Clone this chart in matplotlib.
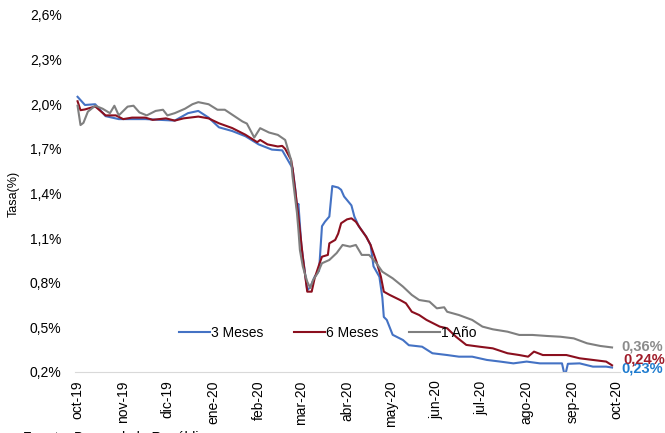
import matplotlib.pyplot as plt
import pandas as pd

plt.rcParams['font.family'] = ['Liberation Sans', 'DejaVu Sans']

# 3 Meses
blue_dates = ['2019-10-01', '2019-10-06', '2019-10-13', '2019-10-20', '2019-10-29', '2019-11-16',
              '2019-12-06', '2019-12-15', '2019-12-22', '2019-12-29', '2020-01-05', '2020-01-14',
              '2020-01-23', '2020-02-01', '2020-02-10', '2020-02-17', '2020-02-24', '2020-02-26',
              '2020-02-27', '2020-02-28', '2020-03-01', '2020-03-02', '2020-03-05', '2020-03-07',
              '2020-03-10', '2020-03-13', '2020-03-15', '2020-03-17', '2020-03-20', '2020-03-22',
              '2020-03-26', '2020-03-28', '2020-03-30', '2020-04-04', '2020-04-06', '2020-04-09',
              '2020-04-14', '2020-04-17', '2020-04-19', '2020-04-23', '2020-04-25', '2020-04-26',
              '2020-04-28', '2020-05-02', '2020-05-09', '2020-05-13', '2020-05-22', '2020-05-29',
              '2020-06-08', '2020-06-16', '2020-06-25', '2020-07-05', '2020-07-14', '2020-07-23',
              '2020-08-01', '2020-08-10', '2020-08-25', '2020-08-27', '2020-08-29', '2020-09-06',
              '2020-09-15', '2020-09-24', '2020-09-28']
blue_vals = [2.05, 1.995, 2.00, 1.92, 1.90, 1.90,
             1.89, 1.94, 1.955, 1.91, 1.845, 1.82,
             1.785, 1.73, 1.695, 1.69, 1.57, 1.42,
             1.30, 1.33, 1.05, 0.975, 0.75, 0.77,
             0.84, 0.88, 1.18, 1.21, 1.245, 1.45,
             1.44, 1.425, 1.38, 1.32, 1.245, 1.18,
             1.11, 1.054, 0.91, 0.84, 0.70, 0.57,
             0.55, 0.45, 0.415, 0.38, 0.37, 0.326,
             0.314, 0.303, 0.303, 0.281, 0.27, 0.258,
             0.27, 0.258, 0.258, 0.17, 0.255, 0.258,
             0.236, 0.236, 0.23]

# 6 Meses
red_dates = ['2019-10-01', '2019-10-03', '2019-10-06', '2019-10-13', '2019-10-20', '2019-10-27',
             '2019-11-01', '2019-11-07', '2019-11-16', '2019-11-21', '2019-11-30', '2019-12-06',
             '2019-12-12', '2019-12-22', '2019-12-29', '2020-01-05', '2020-01-14', '2020-01-23',
             '2020-01-31', '2020-02-02', '2020-02-07', '2020-02-14', '2020-02-17', '2020-02-19',
             '2020-02-23', '2020-02-24', '2020-02-28', '2020-03-02', '2020-03-05', '2020-03-08',
             '2020-03-10', '2020-03-13', '2020-03-15', '2020-03-19', '2020-03-20', '2020-03-24',
             '2020-03-26', '2020-03-28', '2020-04-01', '2020-04-04', '2020-04-07', '2020-04-10',
             '2020-04-14', '2020-04-17', '2020-04-21', '2020-04-24', '2020-04-26', '2020-04-30',
             '2020-05-07', '2020-05-11', '2020-05-15', '2020-05-20', '2020-05-25', '2020-06-03',
             '2020-06-08', '2020-06-14', '2020-06-21', '2020-06-30', '2020-07-09', '2020-07-19',
             '2020-07-27', '2020-08-02', '2020-08-06', '2020-08-12', '2020-08-18', '2020-08-28',
             '2020-09-06', '2020-09-15', '2020-09-24', '2020-09-28']
red_vals = [2.02, 1.96, 1.965, 1.985, 1.925, 1.925,
            1.90, 1.91, 1.91, 1.895, 1.905, 1.89,
            1.905, 1.917, 1.905, 1.872, 1.84, 1.795,
            1.745, 1.76, 1.73, 1.716, 1.72, 1.70,
            1.626, 1.57, 1.245, 0.97, 0.74, 0.74,
            0.83, 0.92, 0.975, 0.987, 1.065, 1.088,
            1.13, 1.20, 1.226, 1.233, 1.21, 1.166,
            1.11, 1.054, 0.942, 0.841, 0.74, 0.718,
            0.684, 0.662, 0.605, 0.583, 0.55, 0.505,
            0.494, 0.437, 0.382, 0.37, 0.359, 0.326,
            0.314, 0.303, 0.337, 0.314, 0.314, 0.314,
            0.292, 0.281, 0.27, 0.245]

# 1 Año
gray_dates = ['2019-10-01', '2019-10-03', '2019-10-05', '2019-10-08', '2019-10-13', '2019-10-18',
              '2019-10-23', '2019-10-26', '2019-10-29', '2019-11-04', '2019-11-08', '2019-11-12',
              '2019-11-17', '2019-11-23', '2019-11-28', '2019-12-01', '2019-12-06', '2019-12-13',
              '2019-12-18', '2019-12-22', '2019-12-29', '2020-01-04', '2020-01-09', '2020-01-14',
              '2020-01-21', '2020-01-24', '2020-01-29', '2020-02-02', '2020-02-08', '2020-02-14',
              '2020-02-19', '2020-02-23', '2020-02-24', '2020-02-27', '2020-02-28', '2020-02-29',
              '2020-03-02', '2020-03-05', '2020-03-07', '2020-03-09', '2020-03-12', '2020-03-15',
              '2020-03-20', '2020-03-25', '2020-03-29', '2020-04-03', '2020-04-07', '2020-04-11',
              '2020-04-16', '2020-04-21', '2020-04-25', '2020-05-02', '2020-05-09', '2020-05-15',
              '2020-05-20', '2020-05-27', '2020-06-01', '2020-06-06', '2020-06-08', '2020-06-16',
              '2020-06-25', '2020-07-02', '2020-07-09', '2020-07-19', '2020-07-27', '2020-08-05',
              '2020-08-15', '2020-08-24', '2020-09-02', '2020-09-11', '2020-09-20', '2020-09-28']
gray_vals = [1.99, 1.86, 1.875, 1.95, 1.99, 1.97,
             1.94, 1.99, 1.925, 1.984, 1.99, 1.945,
             1.925, 1.955, 1.963, 1.925, 1.94, 1.97,
             2.00, 2.014, 2.00, 1.963, 1.963, 1.93,
             1.884, 1.87, 1.776, 1.839, 1.81, 1.794,
             1.76, 1.626, 1.514, 1.27, 1.155, 1.02,
             0.908, 0.807, 0.765, 0.819, 0.864, 0.931,
             0.953, 1.00, 1.054, 1.043, 1.054, 0.987,
             0.987, 0.931, 0.874, 0.83, 0.774, 0.718,
             0.684, 0.673, 0.628, 0.635, 0.605, 0.583,
             0.55, 0.505, 0.487, 0.471, 0.449, 0.449,
             0.442, 0.437, 0.426, 0.393, 0.375, 0.365]

month_ticks = ['2019-10-01', '2019-11-01', '2019-12-01', '2020-01-01', '2020-02-01', '2020-03-01',
               '2020-04-01', '2020-05-01', '2020-06-01', '2020-07-01', '2020-08-01', '2020-09-01',
               '2020-10-01']
month_labels = ['oct-19', 'nov-19', 'dic-19', 'ene-20', 'feb-20', 'mar-20', 'abr-20',
                'may-20', 'jun-20', 'jul-20', 'ago-20', 'sep-20', 'oct-20']
y_ticks = [0.2, 0.5, 0.8, 1.1, 1.4, 1.7, 2.0, 2.3, 2.6]

fig = plt.figure(figsize=(6.65, 4.33), dpi=100)
ax = fig.add_axes([0.1135, 0.1409, 0.8195, 0.8245])

series = [
    ('3 Meses', blue_dates, blue_vals, '#4472c4', '#1f7ccf', '0,23%', (9, -1)),
    ('6 Meses', red_dates, red_vals, '#8b0f1e', '#a01c2a', '0,24%', (11, 6)),
    ('1 Año', gray_dates, gray_vals, '#7f7f7f', '#8c8c8c', '0,36%', (9, 1)),
]
for name, d, v, col, lab_col, end_txt, off in series:
    dd = pd.to_datetime(d)
    ax.plot(dd, v, color=col, lw=1.5, label=name)
    ax.annotate(end_txt, (dd[-1], v[-1]), xytext=off, textcoords='offset pixels',
                color=lab_col, fontsize=10.5, fontweight='bold', va='center', ha='left',
                annotation_clip=False)

ax.set_ylim(0.2, 2.6)
ax.set_yticks(y_ticks)
ax.set_yticklabels([f'{t:.1f}%'.replace('.', ',') for t in y_ticks], fontsize=10)
ax.set_xlim(pd.Timestamp('2019-09-29 14:00'), pd.Timestamp('2020-10-03 17:00'))
ax.set_xticks(pd.to_datetime(month_ticks))
ax.set_xticklabels(month_labels, rotation=90, fontsize=10)
ax.tick_params(axis='both', length=0)
ax.tick_params(axis='x', pad=6)
ax.tick_params(axis='y', pad=10)
ax.set_ylabel('Tasa(%)', fontsize=9, labelpad=7)

for s in ['left', 'top', 'right']:
    ax.spines[s].set_visible(False)
ax.spines['bottom'].set_color('#d9d9d9')

ax.legend(loc='center', bbox_to_anchor=(0.463, 0.109), ncol=3, frameon=False,
          fontsize=10, handlelength=2.2, handletextpad=0.1, columnspacing=2.2)

fig.text(0.035, -0.012, 'Fuente: Banco de la República', fontsize=10, va='center')

fig.savefig('out.png', dpi=100)
